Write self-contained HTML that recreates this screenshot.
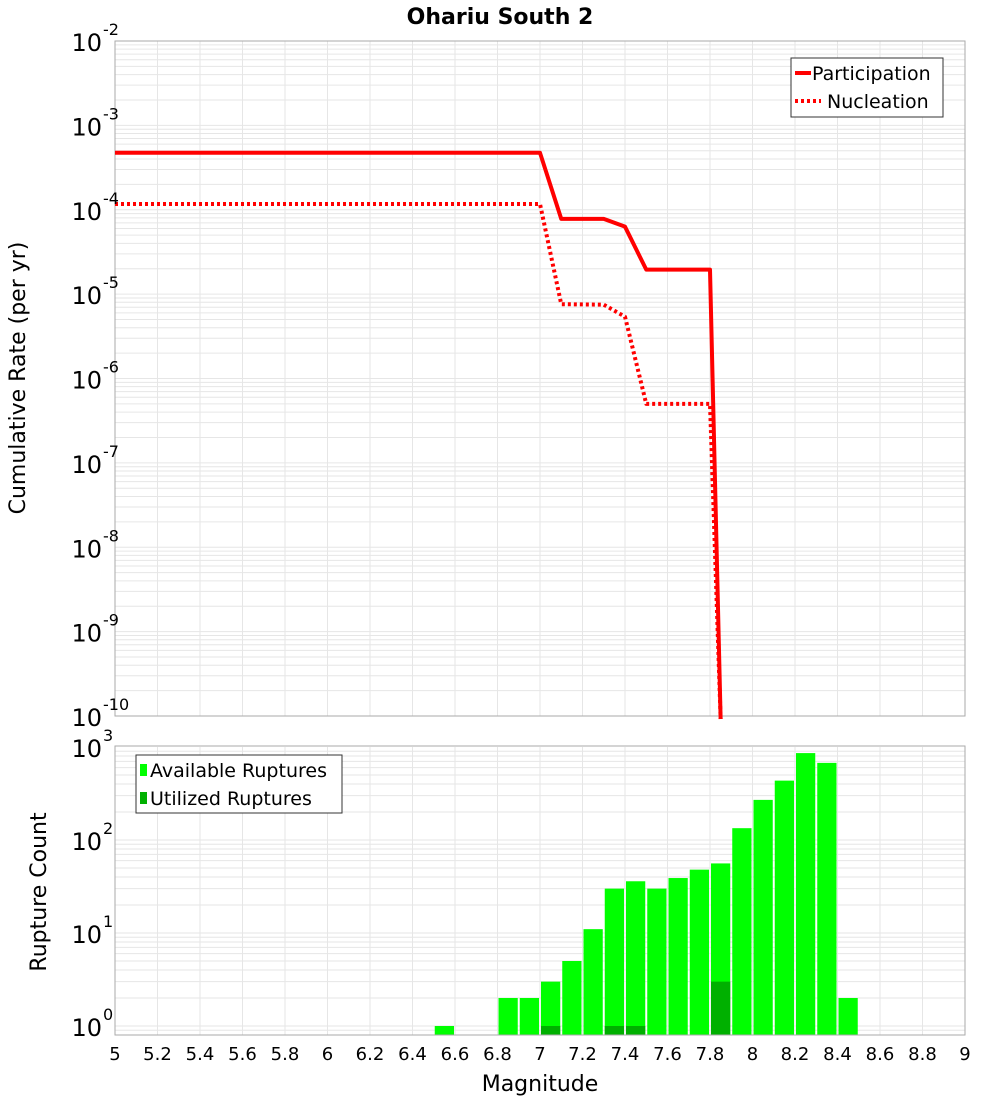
<!DOCTYPE html>
<html><head><meta charset="utf-8"><style>
body{margin:0;background:#fff;font-family:"DejaVu Sans","Liberation Sans",sans-serif}
svg text{font-family:"DejaVu Sans","Liberation Sans",sans-serif}
</style></head><body>
<svg id="c" width="1000" height="1100" xmlns="http://www.w3.org/2000/svg"></svg>
<script>
const mags=[5,7,7.1,7.3,7.4,7.5,7.8,7.85];
const participation=[4.73e-4,4.73e-4,7.8e-5,7.8e-5,6.3e-5,1.95e-5,1.95e-5,1e-11];
const nucleation=[1.17e-4,1.17e-4,7.6e-6,7.5e-6,5.4e-6,5e-7,5e-7,1e-11];
const binStarts=[6.5,6.8,6.9,7.0,7.1,7.2,7.3,7.4,7.5,7.6,7.7,7.8,7.9,8.0,8.1,8.2,8.3,8.4];
const available=[1,2,2,3,5,11,30,36,30,39,48,56,134,270,435,860,675,2];
const utilized=[0,0,0,1,0,0,1,1,0,0,0,3,0,0,0,0,0,0];
const xTicks=[5,5.2,5.4,5.6,5.8,6,6.2,6.4,6.6,6.8,7,7.2,7.4,7.6,7.8,8,8.2,8.4,8.6,8.8,9];
const topDecades=[-2,-3,-4,-5,-6,-7,-8,-9,-10];
const botDecades=[0,1,2,3];

const svg=document.getElementById('c');
const NS='http://www.w3.org/2000/svg';
function mk(tag,attrs,parent){const e=document.createElementNS(NS,tag);for(const k in attrs)e.setAttribute(k,attrs[k]);(parent||svg).appendChild(e);return e;}
const L=115,R=965;
const X=v=>L+(v-5)/4*(R-L);
const T0=41,T1=716;
const Yt=v=>T0+(-2-Math.log10(v))/8*(T1-T0);
const B0=747,B1=1026,BB=1035;
const Yb=v=>B1-Math.log10(v)/3*(B1-B0);

function grid(top,bot,yf,lo,hi){
  const g=mk('g',{});
  
  
  for(const t of xTicks){mk('line',{x1:X(t),x2:X(t),y1:top,y2:bot,stroke:'#e6e6e6'},g);}
  for(let d=lo;d<hi;d++)for(let m=1;m<10;m++){const y=yf(m*Math.pow(10,d));if(y>=top&&y<=bot)mk('line',{x1:L,x2:R,y1:y,y2:y,stroke:'#e6e6e6'},g);}
}
// top plot
grid(T0,T1,Yt,-10,-2);
mk('rect',{x:L,y:T0,width:R-L,height:T1-T0,fill:'none',stroke:'#aaa'});
function line(xs,ys,dash,name){
  const p=mk('polyline',{points:xs.map((x,i)=>X(x)+','+Math.min(Yt(ys[i]),T1+3)).join(' '),fill:'none',stroke:'#f00','stroke-width':4,'stroke-linejoin':'round'});
  if(dash)p.setAttribute('stroke-dasharray','3,3');
  
  
}
const clip=mk('clipPath',{id:'cp'});mk('rect',{x:L,y:T0,width:R-L,height:T1-T0},clip);
line(mags,participation,false,'participation-line');
line(mags,nucleation,true,'nucleation-line');
for(const d of topDecades){
  const t=mk('text',{x:102,y:Yt(Math.pow(10,d))+10,'font-size':24,'text-anchor':'end'});
  t.textContent='10';
  
  
  const s=mk('text',{x:103,y:Yt(Math.pow(10,d))-6,'font-size':16});s.textContent=String(d);
}
const tt=mk('text',{x:500,y:24,'font-size':22,'font-weight':'bold','text-anchor':'middle'});tt.textContent='Ohariu South 2';

const yt=mk('text',{x:0,y:0,'font-size':22,'text-anchor':'middle',transform:'translate(25,378) rotate(-90)'});yt.textContent='Cumulative Rate (per yr)';

// top legend
const lg=mk('g',{});
mk('rect',{x:791,y:58,width:152,height:59,fill:'#fff',stroke:'#333'},lg);
mk('line',{x1:795,x2:811,y1:73,y2:73,stroke:'#f00','stroke-width':4},lg);
mk('line',{x1:795,x2:821,y1:101,y2:101,stroke:'#f00','stroke-width':4,'stroke-dasharray':'3,3'},lg);
let e=mk('text',{x:812,y:80,'font-size':19},lg);e.textContent='Participation';
e=mk('text',{x:827,y:108,'font-size':19},lg);e.textContent='Nucleation';
// bottom plot
grid(B0,BB,Yb,-1,3);
binStarts.forEach((b,i)=>{
  const r=mk('rect',{x:X(b)+1,y:Yb(available[i]),width:X(b+0.1)-X(b)-2,height:BB-Yb(available[i]),fill:'#00ff00'});
  
  if(utilized[i]>0){const u=mk('rect',{x:X(b)+1,y:Yb(utilized[i]),width:X(b+0.1)-X(b)-2,height:BB-Yb(utilized[i]),fill:'#00b000'});
  }
});
mk('rect',{x:L,y:B0-1,width:R-L,height:BB-B0+1,fill:'none',stroke:'#aaa'});
for(const d of botDecades){
  const t=mk('text',{x:102,y:Yb(Math.pow(10,d))+10,'font-size':24,'text-anchor':'end'});t.textContent='10';
  
  const s=mk('text',{x:103,y:Yb(Math.pow(10,d))-6,'font-size':16});s.textContent=String(d);
}
for(const t of xTicks){
  const x=mk('text',{x:X(t),y:1060,'font-size':18,'text-anchor':'middle'});x.textContent=String(t);
  
}
const xt=mk('text',{x:540,y:1091,'font-size':22,'text-anchor':'middle'});xt.textContent='Magnitude';

const yb=mk('text',{x:0,y:0,'font-size':22,'text-anchor':'middle',transform:'translate(46,892) rotate(-90)'});yb.textContent='Rupture Count';

const lb=mk('g',{});
mk('rect',{x:136,y:755,width:206,height:58,fill:'#fff',stroke:'#333'},lb);
mk('rect',{x:140,y:764,width:7,height:12,fill:'#00ff00'},lb);
mk('rect',{x:140,y:792,width:7,height:12,fill:'#00b000'},lb);
e=mk('text',{x:150,y:777,'font-size':19},lb);e.textContent='Available Ruptures';
e=mk('text',{x:150,y:805,'font-size':19},lb);e.textContent='Utilized Ruptures';
</script>
</body></html>
